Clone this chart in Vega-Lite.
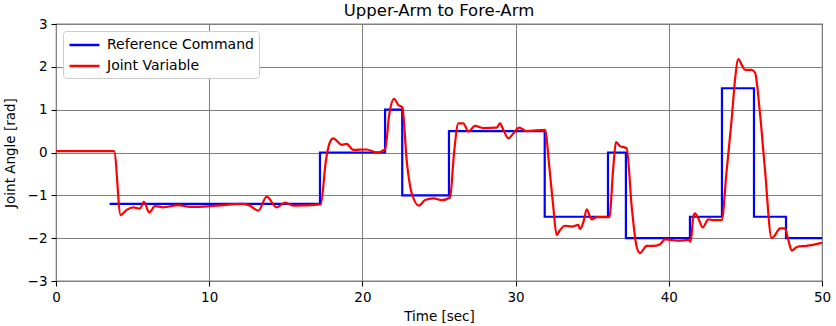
{
  "$schema": "https://vega.github.io/schema/vega-lite/v6.json",
  "autosize": {"type": "none"},
  "padding": {"left": 56, "top": 24, "right": 14, "bottom": 45},
  "width": 766,
  "height": 257,
  "background": "white",
  "title": {"text": "Upper-Arm to Fore-Arm", "font": "DejaVu Sans", "fontSize": 16.5, "fontWeight": "normal", "color": "black", "offset": -2},
  "config": {
    "view": {"stroke": "black", "strokeWidth": 1.1},
    "axis": {
      "labelFont": "DejaVu Sans", "labelFontSize": 13.5, "labelColor": "black", "labelFlush": false,
      "titleFont": "DejaVu Sans", "titleFontSize": 13.5, "titleFontWeight": "normal", "titleColor": "black",
      "gridColor": "#808080", "gridWidth": 1, "gridOpacity": 1,
      "tickColor": "black", "tickSize": 5, "tickWidth": 1.1, "domain": false, "labelPadding": 4
    },
    "legend": {"labelFont": "DejaVu Sans", "labelFontSize": 14, "labelColor": "black"}
  },
  "data": {"values": [
    {"s": "Reference Command", "t": 3.5, "v": -1.2},
    {"s": "Reference Command", "t": 17.23, "v": 0},
    {"s": "Reference Command", "t": 21.48, "v": 1},
    {"s": "Reference Command", "t": 22.6, "v": -1},
    {"s": "Reference Command", "t": 25.65, "v": 0.5},
    {"s": "Reference Command", "t": 31.9, "v": -1.5},
    {"s": "Reference Command", "t": 36.03, "v": 0},
    {"s": "Reference Command", "t": 37.2, "v": -2},
    {"s": "Reference Command", "t": 41.38, "v": -1.5},
    {"s": "Reference Command", "t": 43.47, "v": 1.5},
    {"s": "Reference Command", "t": 45.56, "v": -1.5},
    {"s": "Reference Command", "t": 47.65, "v": -2},
    {"s": "Reference Command", "t": 50, "v": -2},
    {"s": "Joint Variable", "t": 0, "v": 0.03},
    {"s": "Joint Variable", "t": 3.79, "v": 0.03},
    {"s": "Joint Variable", "t": 4.22, "v": -1.46},
    {"s": "Joint Variable", "t": 4.61, "v": -1.34},
    {"s": "Joint Variable", "t": 5.05, "v": -1.28},
    {"s": "Joint Variable", "t": 5.48, "v": -1.31},
    {"s": "Joint Variable", "t": 5.74, "v": -1.15},
    {"s": "Joint Variable", "t": 6.09, "v": -1.4},
    {"s": "Joint Variable", "t": 6.46, "v": -1.25},
    {"s": "Joint Variable", "t": 7.0, "v": -1.28},
    {"s": "Joint Variable", "t": 7.98, "v": -1.23},
    {"s": "Joint Variable", "t": 8.75, "v": -1.27},
    {"s": "Joint Variable", "t": 10.49, "v": -1.24},
    {"s": "Joint Variable", "t": 12.18, "v": -1.2},
    {"s": "Joint Variable", "t": 12.66, "v": -1.24},
    {"s": "Joint Variable", "t": 13.21, "v": -1.36},
    {"s": "Joint Variable", "t": 13.75, "v": -1.03},
    {"s": "Joint Variable", "t": 14.4, "v": -1.28},
    {"s": "Joint Variable", "t": 14.95, "v": -1.17},
    {"s": "Joint Variable", "t": 15.49, "v": -1.24},
    {"s": "Joint Variable", "t": 17.28, "v": -1.21},
    {"s": "Joint Variable", "t": 17.62, "v": -0.18},
    {"s": "Joint Variable", "t": 17.89, "v": 0.25},
    {"s": "Joint Variable", "t": 18.1, "v": 0.33},
    {"s": "Joint Variable", "t": 18.65, "v": 0.18},
    {"s": "Joint Variable", "t": 18.97, "v": 0.2},
    {"s": "Joint Variable", "t": 19.41, "v": 0.06},
    {"s": "Joint Variable", "t": 20.28, "v": 0.07},
    {"s": "Joint Variable", "t": 20.93, "v": 0.0},
    {"s": "Joint Variable", "t": 21.48, "v": 0.07},
    {"s": "Joint Variable", "t": 21.76, "v": 0.91},
    {"s": "Joint Variable", "t": 22.07, "v": 1.25},
    {"s": "Joint Variable", "t": 22.35, "v": 1.11},
    {"s": "Joint Variable", "t": 22.61, "v": 1.05},
    {"s": "Joint Variable", "t": 22.89, "v": -0.18},
    {"s": "Joint Variable", "t": 23.22, "v": -0.95},
    {"s": "Joint Variable", "t": 23.7, "v": -1.24},
    {"s": "Joint Variable", "t": 24.09, "v": -1.11},
    {"s": "Joint Variable", "t": 24.63, "v": -1.07},
    {"s": "Joint Variable", "t": 25.18, "v": -1.11},
    {"s": "Joint Variable", "t": 25.72, "v": -1.05},
    {"s": "Joint Variable", "t": 25.98, "v": -0.02},
    {"s": "Joint Variable", "t": 26.26, "v": 0.68},
    {"s": "Joint Variable", "t": 26.59, "v": 0.68},
    {"s": "Joint Variable", "t": 26.92, "v": 0.49},
    {"s": "Joint Variable", "t": 27.35, "v": 0.62},
    {"s": "Joint Variable", "t": 27.89, "v": 0.57},
    {"s": "Joint Variable", "t": 28.76, "v": 0.58},
    {"s": "Joint Variable", "t": 28.98, "v": 0.68},
    {"s": "Joint Variable", "t": 29.2, "v": 0.53},
    {"s": "Joint Variable", "t": 29.53, "v": 0.33},
    {"s": "Joint Variable", "t": 29.86, "v": 0.45},
    {"s": "Joint Variable", "t": 30.23, "v": 0.58},
    {"s": "Joint Variable", "t": 30.73, "v": 0.5},
    {"s": "Joint Variable", "t": 31.92, "v": 0.53},
    {"s": "Joint Variable", "t": 32.2, "v": -0.33},
    {"s": "Joint Variable", "t": 32.46, "v": -1.27},
    {"s": "Joint Variable", "t": 32.68, "v": -1.93},
    {"s": "Joint Variable", "t": 32.9, "v": -1.81},
    {"s": "Joint Variable", "t": 33.22, "v": -1.71},
    {"s": "Joint Variable", "t": 33.66, "v": -1.73},
    {"s": "Joint Variable", "t": 34.1, "v": -1.69},
    {"s": "Joint Variable", "t": 34.2, "v": -1.79},
    {"s": "Joint Variable", "t": 34.46, "v": -1.58},
    {"s": "Joint Variable", "t": 34.64, "v": -1.33},
    {"s": "Joint Variable", "t": 34.96, "v": -1.56},
    {"s": "Joint Variable", "t": 35.29, "v": -1.51},
    {"s": "Joint Variable", "t": 36.12, "v": -1.51},
    {"s": "Joint Variable", "t": 36.38, "v": -0.33},
    {"s": "Joint Variable", "t": 36.55, "v": 0.24},
    {"s": "Joint Variable", "t": 36.81, "v": 0.15},
    {"s": "Joint Variable", "t": 37.25, "v": 0.1},
    {"s": "Joint Variable", "t": 37.58, "v": -1.27},
    {"s": "Joint Variable", "t": 37.9, "v": -2.2},
    {"s": "Joint Variable", "t": 38.12, "v": -2.35},
    {"s": "Joint Variable", "t": 38.56, "v": -2.18},
    {"s": "Joint Variable", "t": 38.99, "v": -2.18},
    {"s": "Joint Variable", "t": 39.43, "v": -2.14},
    {"s": "Joint Variable", "t": 39.75, "v": -2.03},
    {"s": "Joint Variable", "t": 40.08, "v": -2.04},
    {"s": "Joint Variable", "t": 40.73, "v": -2.06},
    {"s": "Joint Variable", "t": 41.27, "v": -2.04},
    {"s": "Joint Variable", "t": 41.43, "v": -2.08},
    {"s": "Joint Variable", "t": 41.6, "v": -1.5},
    {"s": "Joint Variable", "t": 41.71, "v": -1.42},
    {"s": "Joint Variable", "t": 41.93, "v": -1.54},
    {"s": "Joint Variable", "t": 42.21, "v": -1.75},
    {"s": "Joint Variable", "t": 42.58, "v": -1.56},
    {"s": "Joint Variable", "t": 42.91, "v": -1.58},
    {"s": "Joint Variable", "t": 43.45, "v": -1.58},
    {"s": "Joint Variable", "t": 43.78, "v": -0.41},
    {"s": "Joint Variable", "t": 44.1, "v": 0.76},
    {"s": "Joint Variable", "t": 44.32, "v": 1.69},
    {"s": "Joint Variable", "t": 44.54, "v": 2.18},
    {"s": "Joint Variable", "t": 44.77, "v": 2.04},
    {"s": "Joint Variable", "t": 44.98, "v": 1.93},
    {"s": "Joint Variable", "t": 45.41, "v": 1.93},
    {"s": "Joint Variable", "t": 45.63, "v": 1.86},
    {"s": "Joint Variable", "t": 45.95, "v": 0.92},
    {"s": "Joint Variable", "t": 46.28, "v": -0.41},
    {"s": "Joint Variable", "t": 46.71, "v": -2.0},
    {"s": "Joint Variable", "t": 46.93, "v": -1.93},
    {"s": "Joint Variable", "t": 47.26, "v": -1.77},
    {"s": "Joint Variable", "t": 47.58, "v": -1.77},
    {"s": "Joint Variable", "t": 47.8, "v": -2.04},
    {"s": "Joint Variable", "t": 48.02, "v": -2.29},
    {"s": "Joint Variable", "t": 48.39, "v": -2.2},
    {"s": "Joint Variable", "t": 48.99, "v": -2.18},
    {"s": "Joint Variable", "t": 50.0, "v": -2.11}
  ]},
  "encoding": {
    "x": {"field": "t", "type": "quantitative", "scale": {"domain": [0, 50], "nice": false, "zero": false},
          "axis": {"title": "Time [sec]", "values": [0, 10, 20, 30, 40, 50], "titlePadding": 6}},
    "y": {"field": "v", "type": "quantitative", "scale": {"domain": [-3, 3], "nice": false},
          "axis": {"title": "Joint Angle [rad]", "values": [-3, -2, -1, 0, 1, 2, 3], "titlePadding": 10}},
    "color": {"field": "s", "type": "nominal",
      "scale": {"domain": ["Reference Command", "Joint Variable"], "range": ["#0000ff", "#ff0000"]},
      "legend": {"title": null, "orient": "top-left", "offset": 7, "symbolType": "M-1,0H3", "symbolStrokeWidth": 2.5,
                 "symbolSize": 225, "padding": 5, "strokeColor": "#cccccc", "fillColor": "white", "cornerRadius": 3,
                 "rowPadding": 5, "labelOffset": 21}}
  },
  "layer": [
    {"transform": [{"filter": "datum.s === 'Reference Command'"}],
     "mark": {"type": "line", "interpolate": "step-after", "strokeWidth": 2.2, "clip": true}},
    {"transform": [{"filter": "datum.s === 'Joint Variable'"}],
     "mark": {"type": "line", "interpolate": "monotone", "strokeWidth": 2.2, "clip": true}}
  ]
}
